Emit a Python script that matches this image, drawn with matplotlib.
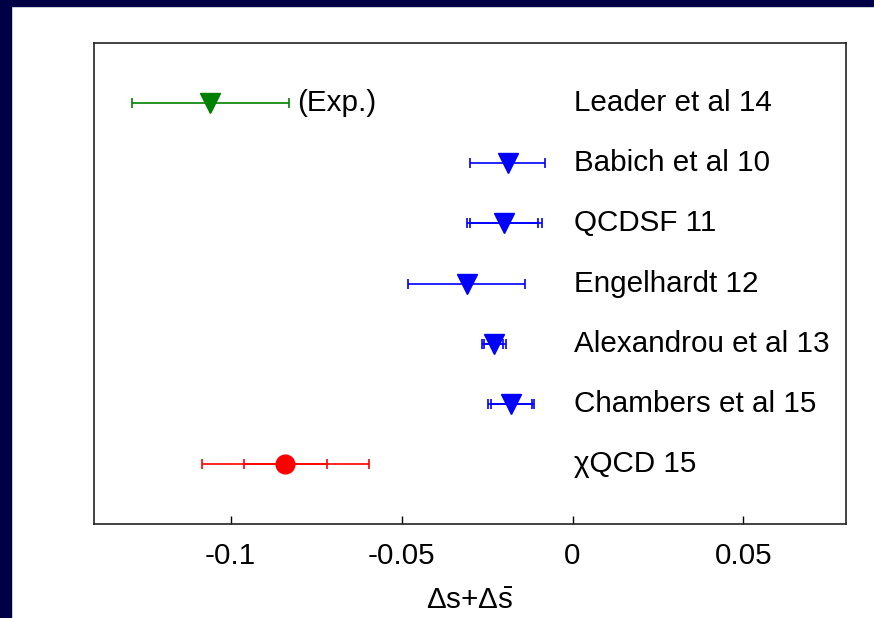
"""
    Strange quark spin contribution, lattice and experiment comparison
"""
import matplotlib
matplotlib.use("Agg")
import matplotlib.pyplot as plt
from matplotlib.patches import Rectangle

plt.rcParams['font.family'] = ['Liberation Sans', 'DejaVu Sans']
plt.rcParams['mathtext.fontset'] = 'custom'
plt.rcParams['mathtext.rm'] = 'Liberation Sans'
plt.rcParams['mathtext.it'] = 'Liberation Sans'

# data: central value, outer error, inner error (0 = no inner)
labels = ["Leader et al 14", "Babich et al 10", "QCDSF 11", "Engelhardt 12",
          "Alexandrou et al 13", "Chambers et al 15", "χQCD 15"]
values = [-0.106, -0.019, -0.020, -0.031, -0.023, -0.018, -0.084]
err_outer = [0.023, 0.011, 0.011, 0.017, 0.0035, 0.0066, 0.0244]
err_inner = [0.0, 0.0, 0.010, 0.0, 0.0028, 0.006, 0.0122]
colors = ["green", "blue", "blue", "blue", "blue", "blue", "red"]
markers = ["v", "v", "v", "v", "v", "v", "o"]
rows = [7, 6, 5, 4, 3, 2, 1]

xticks = [-0.1, -0.05, 0, 0.05]
xticklabels = ["-0.1", "-0.05", "0", "0.05"]

fig = plt.figure(figsize=(8.74, 6.18), dpi=100)
# navy frame strips
fig.patches.append(Rectangle((0, 0), 11 / 874, 1, transform=fig.transFigure,
                             color="#000044", zorder=0))
fig.patches.append(Rectangle((0, 1 - 6 / 618), 1, 6 / 618, transform=fig.transFigure,
                             color="#000044", zorder=0))

ax = fig.add_axes([94 / 874, 94 / 618, (846 - 94) / 874, (524 - 43) / 618])

for i in range(len(values)):
    ax.errorbar(values[i], rows[i], xerr=err_outer[i], fmt="none", ecolor=colors[i],
                elinewidth=1.2, capsize=3.5, capthick=1.2)
    if err_inner[i] > 0:
        ax.errorbar(values[i], rows[i], xerr=err_inner[i], fmt="none", ecolor=colors[i],
                    elinewidth=1.2, capsize=3.5, capthick=1.2)
    ms = 13.5 if markers[i] == "o" else 14
    ax.plot(values[i], rows[i], marker=markers[i], color=colors[i], ms=ms,
            linestyle="none", zorder=5)
    ax.text(0.0003, rows[i], labels[i], fontsize=21.3, ha="left", va="center")

ax.text(-0.0806, 7, "(Exp.)", fontsize=21.3, ha="left", va="center")

ax.set_xlim(-0.14, 0.08)
ax.set_ylim(0, 8)
ax.set_yticks([])
ax.set_xticks(xticks)
ax.set_xticklabels(xticklabels, fontsize=21.3)
ax.tick_params(axis="x", direction="in", length=6, width=1, pad=13)
for s in ax.spines.values():
    s.set_linewidth(1.2)
    s.set_color("#222222")
ax.set_xlabel(r"$\mathrm{\Delta s{+}\Delta\bar{s}}$", fontsize=21.3, labelpad=12)

plt.savefig("out.png", dpi=100)
